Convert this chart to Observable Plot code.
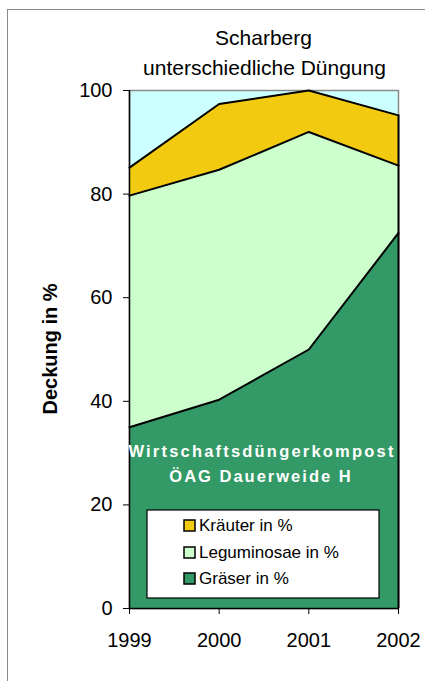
<!DOCTYPE html>
<html>
<head>
<meta charset="utf-8">
<script src="https://cdn.jsdelivr.net/npm/d3@7"></script>
<script src="https://cdn.jsdelivr.net/npm/@observablehq/plot@0.6"></script>
<style>
  html, body { margin: 0; padding: 0; background: #fff; }
  #wrap { position: relative; width: 425px; height: 681px; overflow: hidden; font-family: "Liberation Sans", Arial, sans-serif; }
  #frame { position: absolute; left: 7px; top: 9px; width: 500px; height: 800px; border-left: 1.5px solid #8a8a8a; border-top: 1.5px solid #8a8a8a; box-sizing: border-box; }
  #chart { position: absolute; left: 0; top: 0; }
</style>
</head>
<body>
<div id="wrap"><div id="frame"></div><div id="chart"></div></div>
<script>
const years = [1999, 2000, 2001, 2002];
const seriesNames = ["Gräser in %", "Leguminosae in %", "Kräuter in %"];
const graeser = [35, 40.3, 50, 72.5];
const leguminosae = [44.7, 44.4, 42, 13];
const kraeuter = [5.4, 12.7, 8, 9.7];
const colors = ["#339966", "#ccffcc", "#f2ca10"];
const yTicks = [0, 20, 40, 60, 80, 100];
const titleLines = ["Scharberg", "unterschiedliche Düngung"];
const noteLines = ["Wirtschaftsdüngerkompost", "ÖAG Dauerweide H"];
const yLabel = "Deckung in %";

const values = [graeser, leguminosae, kraeuter];
const data = [];
seriesNames.forEach((s, i) => years.forEach((yr, j) => data.push({series: s, year: yr, value: values[i][j]})));

const W = 425, H = 681;
const mL = 129, mR = 27, mT = 90, mB = 73;

const chart = Plot.plot({
  width: W, height: H,
  marginLeft: mL, marginRight: mR, marginTop: mT, marginBottom: mB,
  style: {fontFamily: "'Liberation Sans', Arial, sans-serif", background: "transparent", overflow: "visible"},
  x: {domain: [1999, 2002], ticks: years, tickFormat: d => String(d), label: null, tickSize: 6, tickPadding: 18},
  y: {domain: [0, 100], ticks: yTicks, label: null, tickSize: 6, tickPadding: 11},
  color: {domain: seriesNames, range: colors},
  marks: [
    Plot.frame({fill: "#ccffff", stroke: "#8a8a8a", strokeWidth: 1.5}),
    Plot.areaY(data, {x: "year", y: "value", z: "series", fill: "series", fillOpacity: 1}),
    Plot.lineY(data, Plot.stackY2({x: "year", y: "value", z: "series", stroke: "black", strokeWidth: 2})),
    Plot.ruleY([0], {stroke: "black", strokeWidth: 1.5}),
    Plot.ruleX([1999], {stroke: "black", strokeWidth: 1.5}),
    Plot.ruleX([2002], {y1: 0, y2: d3.sum(values, v => v[3]), stroke: "black", strokeWidth: 2}),
    Plot.axisX({ticks: years, tickFormat: d => String(d), tickSize: 6, tickPadding: 18, fontSize: 20, stroke: "#000"}),
    Plot.axisY({ticks: yTicks, tickSize: 6, tickPadding: 11, fontSize: 20, stroke: "#000"})
  ]
});
document.getElementById("chart").appendChild(chart);

const svg = d3.select(chart);
const cx = mL + (W - mL - mR) / 2;
// title
svg.append("text").attr("x", cx).attr("y", 45).attr("text-anchor", "middle")
  .attr("font-size", 21).attr("fill", "#000").text(titleLines[0]);
svg.append("text").attr("x", cx + 1).attr("y", 75).attr("text-anchor", "middle")
  .attr("font-size", 21).attr("fill", "#000").text(titleLines[1]);
// y label
svg.append("text").attr("transform", "translate(57,349) rotate(-90)").attr("text-anchor", "middle")
  .attr("font-size", 20).attr("font-weight", "bold").attr("fill", "#000").text(yLabel);
// annotation
svg.append("text").attr("x", 262).attr("y", 457).attr("text-anchor", "middle")
  .attr("font-size", 16.5).attr("font-weight", "bold").attr("letter-spacing", 2.2).attr("fill", "#fff").text(noteLines[0]);
svg.append("text").attr("x", 261).attr("y", 482).attr("text-anchor", "middle")
  .attr("font-size", 16.5).attr("font-weight", "bold").attr("letter-spacing", 2).attr("fill", "#fff").text(noteLines[1]);
// legend
const lg = svg.append("g").attr("text-anchor", "start");
lg.append("rect").attr("x", 147).attr("y", 510).attr("width", 232).attr("height", 88)
  .attr("fill", "#fff").attr("stroke", "#000").attr("stroke-width", 1.2);
const legOrder = [2, 1, 0];
const baselines = [531, 558, 584];
legOrder.forEach((si, k) => {
  lg.append("rect").attr("x", 184).attr("y", baselines[k] - 11).attr("width", 11).attr("height", 11)
    .attr("fill", colors[si]).attr("stroke", "#000").attr("stroke-width", 1.5);
  lg.append("text").attr("x", 199).attr("y", baselines[k]).attr("text-anchor", "start")
    .attr("font-size", 17).attr("fill", "#000").text(seriesNames[si]);
});
</script>
</body>
</html>
